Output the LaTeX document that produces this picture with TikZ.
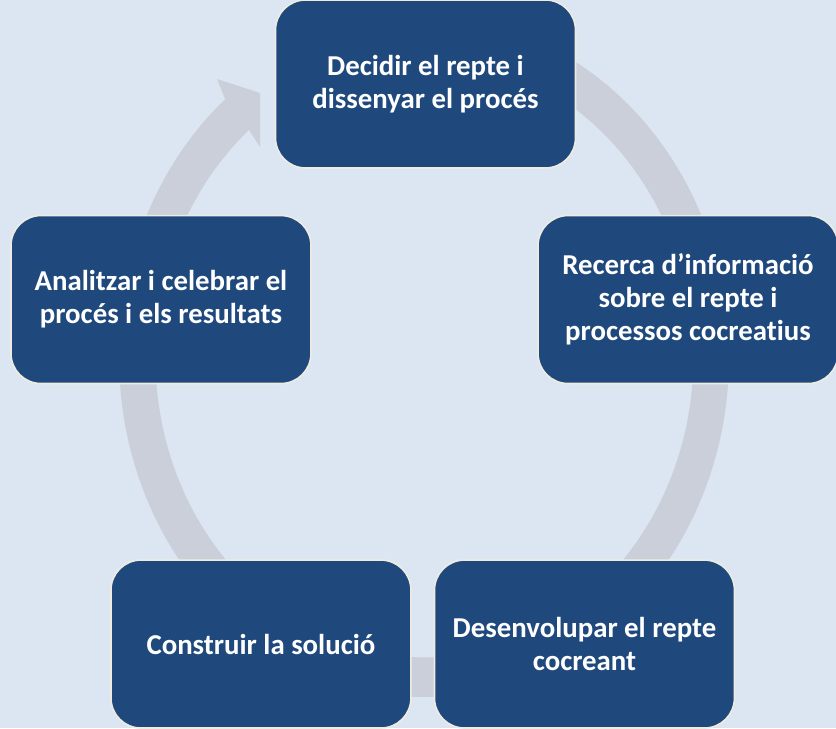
\documentclass[tikz,border=0pt]{standalone}
\usepackage{fontspec}
\setmainfont{Carlito}[Ligatures=NoCommon]
\usepackage{xcolor}
\definecolor{pageBg}{HTML}{DCE6F2}
\definecolor{boxBlue}{HTML}{1F497D}
\definecolor{boxEdge}{HTML}{EEECE1}
\definecolor{ringGray}{HTML}{CBCFDA}
\usepackage{tikz}
\usetikzlibrary{positioning,calc}
\tikzset{%
  stepBox/.style={%
    rectangle,
    rounded corners=0.6cm,
    draw=boxEdge,
    line width=0.9pt,
    fill=boxBlue,
    text=white,
    minimum width=6cm,
    minimum height=3.36cm,
    align=center,
    inner sep=0pt,
    font=\fontsize{16.4pt}{18.7pt}\selectfont\bfseries
  },
  ringArrow/.style={%
    fill=ringGray
  }
}

\begin{document}
\begin{tikzpicture}[x=0.02cm,y=0.02cm]
  \fill[pageBg] (0,0) rectangle (836,728);
  \useasboundingbox (0,0) rectangle (836,728);

  \coordinate (mid) at (424,371);
  % cycle ring with its head by the first step
  \fill[ringArrow] ($(mid)+(95:305 and 340)$)
    arc[start angle=95, end angle=-229.3, x radius=305, y radius=340]
    -- (217,649) -- (260,635) -- (260,581) -- (249,598)
    arc[start angle=-229.3, end angle=95, x radius=269, y radius=300]
    -- cycle;

  \node[stepBox] (decide) at (425.5,644) {Decidir el repte i\\dissenyar el procés};
  \node[stepBox, below right=0.92cm and -0.78cm of decide] (search) {Recerca d’informació\\sobre el repte i\\processos cocreatius};
  \node[stepBox, below left=0.92cm and -0.74cm of decide] (analyse) {Analitzar i celebrar el\\procés i els resultats};
  \node[stepBox, below=3.5cm of analyse, xshift=2cm] (build) {Construir la solució};
  \node[stepBox, right=0.44cm of build] (develop) {Desenvolupar el repte\\cocreant};
\end{tikzpicture}
\end{document}
